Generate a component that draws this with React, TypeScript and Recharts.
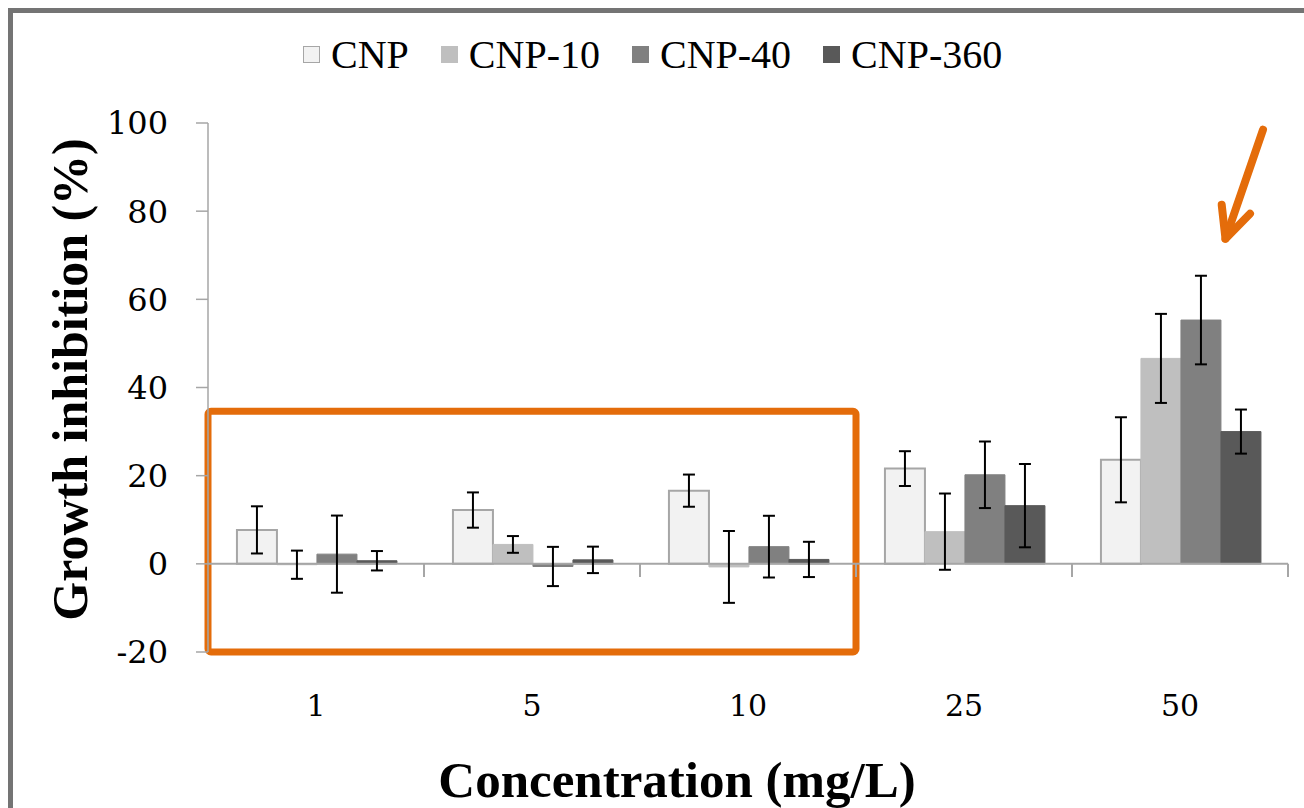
import React from 'react';
import {
  BarChart, Bar, XAxis, YAxis, ErrorBar, ReferenceLine, ReferenceArea, ReferenceDot, Label,
} from 'recharts';

const concentrations = ['1', '5', '10', '25', '50'];
const cnp = [7.7, 12.2, 16.6, 21.6, 23.6];
const cnpErr = [5.35, 4.0, 3.65, 3.95, 9.65];
const cnp10 = [-0.2, 4.4, -0.7, 7.3, 46.6];
const cnp10Err = [3.2, 1.9, 8.15, 8.65, 10.1];
const cnp40 = [2.2, -0.6, 3.9, 20.2, 55.3];
const cnp40Err = [8.75, 4.45, 7.0, 7.55, 10.05];
const cnp360 = [0.7, 0.9, 1.0, 13.2, 30.0];
const cnp360Err = [2.2, 3.0, 4.0, 9.45, 5.0];
const yTicks = [-20, 0, 20, 40, 60, 80, 100];

const seriesNames = ['CNP', 'CNP-10', 'CNP-40', 'CNP-360'];
const seriesKeys = ['cnp', 'cnp10', 'cnp40', 'cnp360'];
const seriesFills = ['#f2f2f2', '#bfbfbf', '#808080', '#595959'];
const seriesStrokes = ['#a6a6a6', '#bfbfbf', '#808080', '#595959'];

const data = concentrations.map((c, i) => ({
  conc: c,
  cnp: cnp[i], cnpErr: cnpErr[i],
  cnp10: cnp10[i], cnp10Err: cnp10Err[i],
  cnp40: cnp40[i], cnp40Err: cnp40Err[i],
  cnp360: cnp360[i], cnp360Err: cnp360Err[i],
}));

const ORANGE = '#e46c0a';
const AXIS = '#a6a6a6';
const TICK_FONT = { fontFamily: 'DejaVu Serif', fontSize: 30, fill: '#000' };

const Arrow = (props: any) => {
  const { cx, cy } = props;
  if (cx == null || cy == null) return null;
  const tipX = cx + 45.5, tipY = cy + 54;
  return (
    <g stroke={ORANGE} strokeWidth={8} strokeLinecap="round" strokeLinejoin="round" fill="none">
      <line x1={cx + 83} y1={cy - 55} x2={tipX} y2={tipY} />
      <polyline points={`${cx + 41.7},${cy + 20} ${tipX},${tipY} ${cx + 70},${cy + 29}`} />
    </g>
  );
};

export default function App() {
  return (
    <div style={{ position: 'absolute', left: 0, top: 0, width: 1304, height: 808, overflow: 'hidden', background: '#fff' }}>
      <div style={{ position: 'absolute', left: 8, top: 8, width: 1400, height: 900, borderLeft: '5px solid #747474', borderTop: '5px solid #747474' }} />
      <div style={{ position: 'absolute', left: 303, top: 32, height: 44, display: 'flex', alignItems: 'center', fontFamily: 'Liberation Serif', fontSize: 40, color: '#000', whiteSpace: 'nowrap' }}>
        {seriesNames.map((name, i) => (
          <div key={name} style={{ display: 'flex', alignItems: 'center', marginRight: 32 }}>
            <div style={{ width: i === 0 ? 15 : 17, height: i === 0 ? 15 : 17, background: seriesFills[i], border: i === 0 ? `1px solid ${seriesStrokes[0]}` : 'none', marginRight: 11 }} />
            <span>{name}</span>
          </div>
        ))}
      </div>
      <div style={{ position: 'absolute', left: 0, top: 0 }}>
        <BarChart width={1304} height={808} data={data} margin={{ top: 123, right: 16, bottom: 0, left: 0 }} barCategoryGap="13.4%" barGap={0}>
          <XAxis dataKey="conc" type="category" axisLine={false} tickLine={false} tickSize={0} tickMargin={43} height={156} tick={TICK_FONT} interval={0}>
            <Label content={(p: any) => {
              const vb = p.viewBox || {};
              return (
                <text x={vb.x + vb.width / 2 - 71} y={vb.y + vb.height - 11} textAnchor="middle" fontFamily="Liberation Serif" fontWeight="bold" fontSize={51} fill="#000">Concentration (mg/L)</text>
              );
            }} />
          </XAxis>
          <YAxis type="number" domain={[-20, 100]} ticks={yTicks} width={208} axisLine={{ stroke: AXIS, strokeWidth: 1.5 }} tickLine={{ stroke: AXIS, strokeWidth: 1.5 }} tickSize={12} tickMargin={28} tick={{ ...TICK_FONT, fontSize: 32 }} interval={0}>
            <Label content={(p: any) => {
              const vb = p.viewBox || {};
              const cx = vb.x + 70;
              const cy = vb.y + vb.height / 2 - 8;
              return (
                <text x={cx} y={cy} transform={`rotate(-90 ${cx} ${cy})`} textAnchor="middle" dominantBaseline="central" fontFamily="Liberation Serif" fontWeight="bold" fontSize={50} fill="#000">Growth inhibition (%)</text>
              );
            }} />
          </YAxis>
          <ReferenceLine y={0} stroke={AXIS} strokeWidth={2} />
          {concentrations.slice(1).map((c) => (
            <ReferenceLine key={'t' + c} segment={[{ x: c, y: 0 }, { x: c, y: -3 }]} position="start" stroke={AXIS} strokeWidth={2} />
          ))}
          <ReferenceLine segment={[{ x: concentrations[4], y: 0 }, { x: concentrations[4], y: -3 }]} position="end" stroke={AXIS} strokeWidth={2} />
          {seriesKeys.map((k, i) => (
            <Bar key={k} dataKey={k} name={seriesNames[i]} fill={seriesFills[i]} stroke={seriesStrokes[i]} strokeWidth={i === 0 ? 2 : 1} isAnimationActive={false}>
              <ErrorBar dataKey={k + 'Err'} width={6} stroke="#000" strokeWidth={2} direction="y" />
            </Bar>
          ))}
          <ReferenceArea x1={concentrations[0]} x2={concentrations[2]} y1={-20} y2={34.6} fill="none" stroke={ORANGE} strokeWidth={7} ifOverflow="visible" radius={3} />
          <ReferenceDot x={concentrations[4]} y={86} ifOverflow="visible" shape={Arrow} />
        </BarChart>
      </div>
    </div>
  );
}
